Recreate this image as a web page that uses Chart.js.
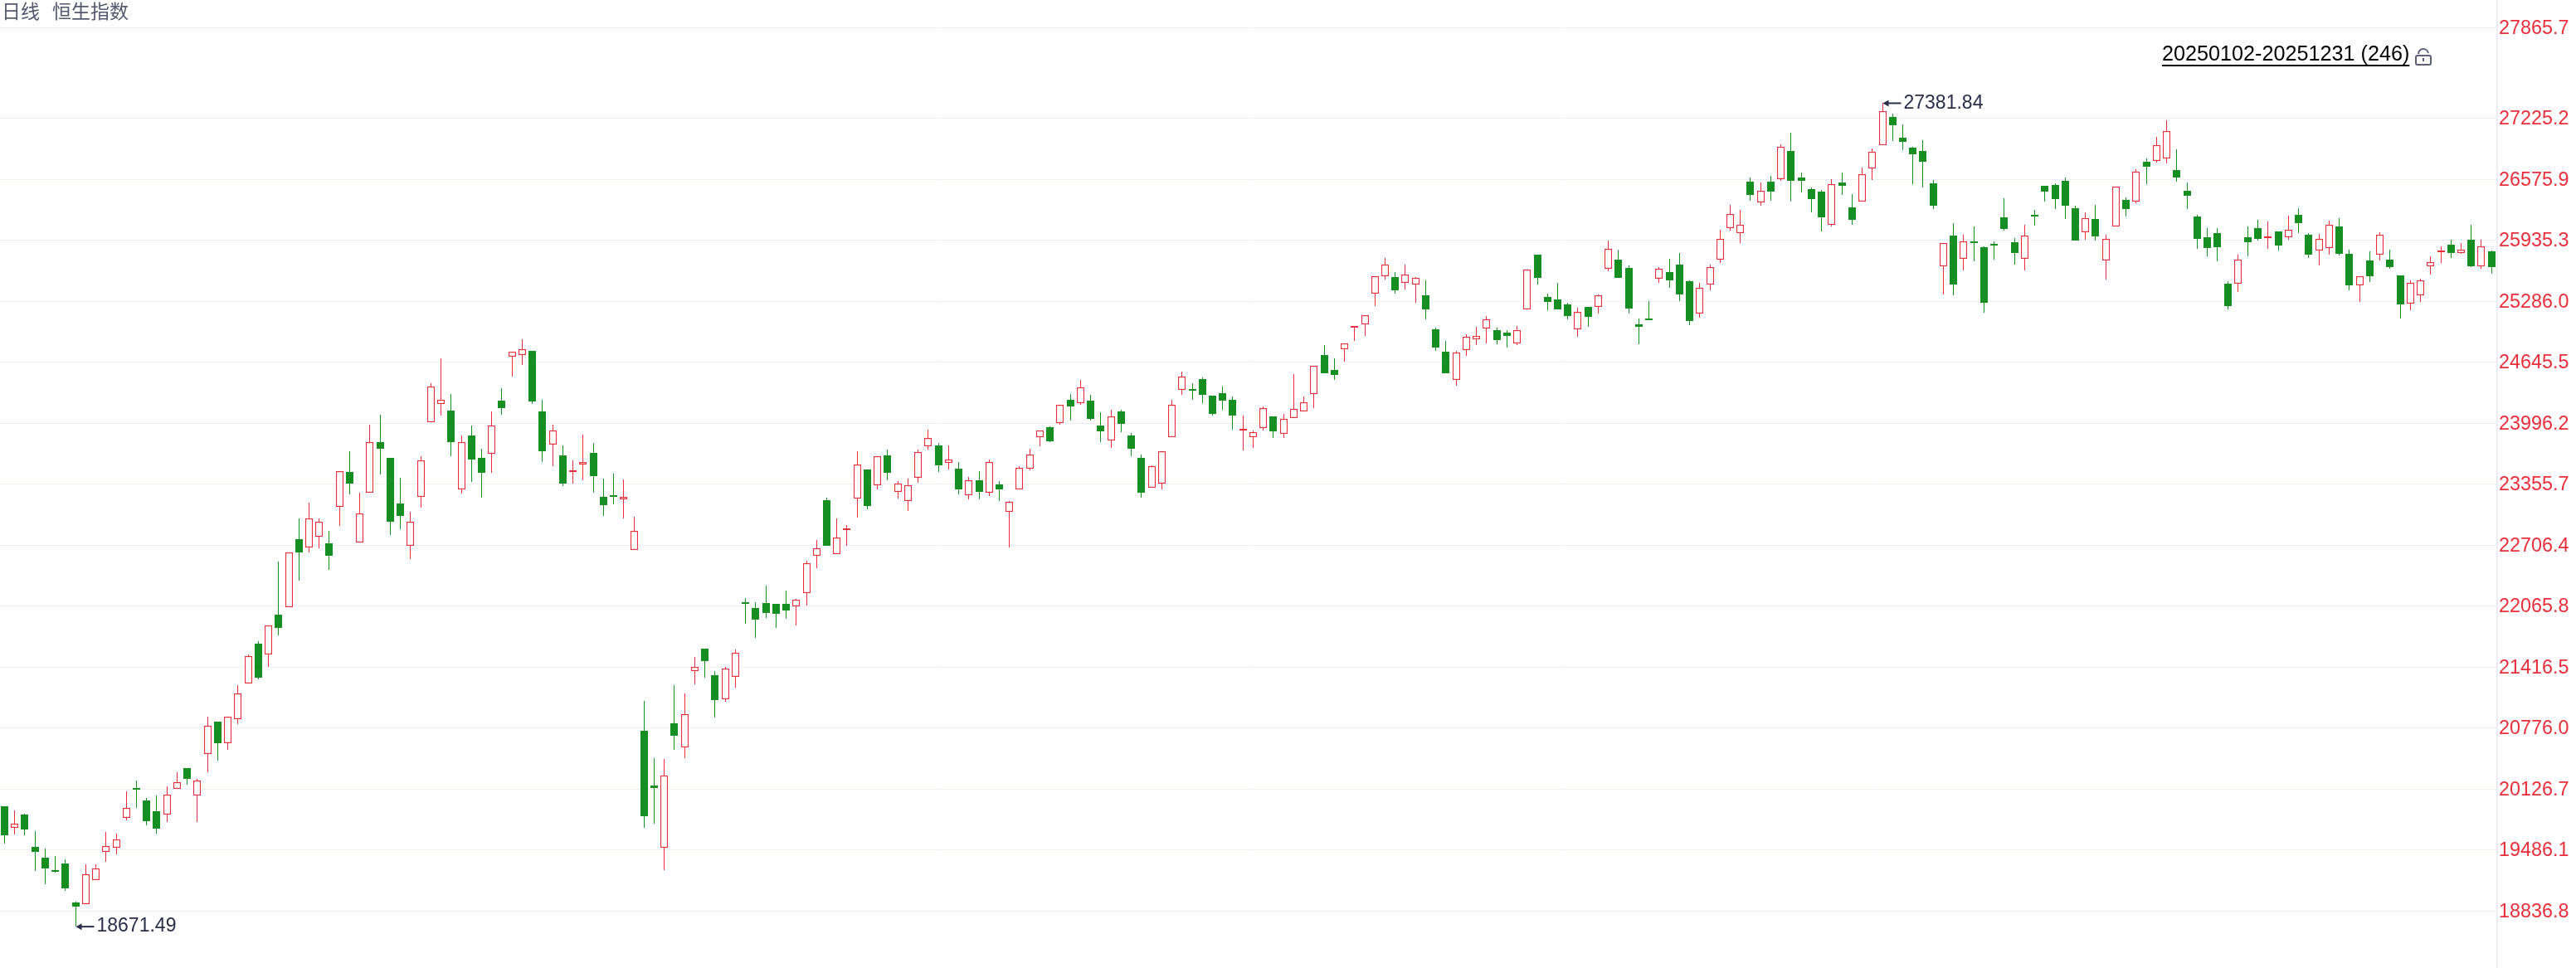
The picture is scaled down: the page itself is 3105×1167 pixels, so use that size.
<!DOCTYPE html>
<html lang="zh">
<head>
<meta charset="utf-8">
<title>恒生指数 日线</title>
<script src="https://cdn.jsdelivr.net/npm/chart.js@4"></script>
<style>html,body{margin:0;padding:0;background:#fff;overflow:hidden}canvas{display:block}</style>
</head>
<body>
<canvas id="c" width="3105" height="1167"></canvas>
<script>
const headerParts = ['日线', '恒生指数'];
const rangeText = '20250102-20251231 (246)';
const tickLabels = ['27865.7','27225.2','26575.9','25935.3','25286.0','24645.5','23996.2','23355.7','22706.4','22065.8','21416.5','20776.0','20126.7','19486.1','18836.8'];
const tickValues = [28175.5,27225.2,26575.9,25935.3,25286.0,24645.5,23996.2,23355.7,22706.4,22065.8,21416.5,20776.0,20126.7,19486.1,18836.8];
const opens = [
19942,19720,19856,19513,19399,19266,19336,18923,18914,19167,
19466,19510,19818,20136,20005,19891,19859,20132,20345,20063,
20501,20837,20615,20869,21240,21662,21548,21974,22050,22772,
22681,22795,22728,23111,23482,22734,23260,23798,23631,23149,
22699,23216,24005,24198,24131,23295,23868,23631,23672,24236,
24698,24716,24762,24122,23769,23658,23479,23558,23684,23219,
23228,23190,22655,20740,20167,19506,20819,20570,21379,21609,
21328,21078,21318,22095,22040,22095,22085,22085,22056,22203,
22593,23184,22609,22868,23197,23507,23338,23657,23268,23172,
23418,23753,23763,23578,23517,23232,23395,23261,23351,23057,
23297,23513,23848,23956,23997,24246,24208,24237,23974,23813,
24123,23869,23632,23314,23358,23848,24348,24359,24465,24289,
24316,24246,23916,23848,23945,24070,23883,24050,24120,24304,
24718,24561,24779,25004,25042,25366,25550,25544,25480,25468,
25351,24992,24756,24455,24770,24884,24998,24983,24957,24840,
25199,25781,25334,25307,25255,24989,25229,25226,25629,25728,
25640,25045,25106,25524,25597,25675,25500,25156,25462,25727,
26060,26008,26554,26332,26554,26577,26878,26597,26475,26448,
26095,26545,26282,26338,26691,26936,27237,27018,26913,26878,
26536,25657,25984,25736,25905,25862,25897,26177,25914,25736,
26192,26510,26519,26562,26273,26016,26159,25718,26078,26361,
26338,26764,26770,26796,26676,26457,26186,25967,26010,25476,
25473,25967,26063,25952,26028,25964,26203,25993,25824,25850,
26081,25791,25456,25721,25780,25730,25564,25263,25351,25657,
25809,25888,25797,25940,25657,25818];
const closes = [
19637,19764,19701,19463,19288,19253,19075,18885,19228,19291,
19526,19590,19929,20123,19786,19710,20072,20202,20237,20221,
20799,20612,20897,21142,21529,21307,21862,21828,22629,22634,
22988,22953,22591,23488,23354,23041,23795,23731,22959,23020,
22953,23602,24382,24242,23801,23795,23617,23476,23970,24160,
24751,24777,24230,23704,23918,23362,23497,23584,23441,23134,
23222,23216,22857,19838,20135,20270,20688,20922,21420,21481,
21069,21404,21570,22088,21922,21992,21983,22018,22127,22513,
22670,22702,22785,22874,23558,23124,23645,23469,23357,23338,
23689,23840,23555,23610,23300,23392,23274,23584,23300,23162,
23524,23664,23918,23810,24190,24178,24374,24047,23907,24067,
23994,23723,23259,23542,23699,24190,24488,24345,24301,24091,
24240,24082,23930,23901,24155,23907,24041,24146,24216,24602,
24529,24511,24840,25010,25138,25550,25672,25407,25567,25532,
25197,24794,24522,24744,24910,24919,25094,24872,24922,24980,
25620,25538,25284,25197,25135,25173,25118,25348,25839,25538,
25214,25013,25091,25629,25512,25363,25074,25427,25646,25946,
26209,26095,26408,26454,26451,26919,26557,26557,26364,26171,
26524,26504,26145,26630,26866,27295,27152,26977,26846,26767,
26302,25902,25462,25920,25900,25269,25873,26048,25794,25981,
26183,26451,26364,26302,25926,26165,25970,25946,26498,26259,
26656,26714,26936,27085,26592,26399,25943,25847,25856,25234,
25727,25908,25943,25961,25873,26043,26110,25777,25946,26095,
25786,25453,25552,25549,25990,25645,25251,25482,25508,25701,
25818,25794,25832,25654,25867,25645];
const highs = [
19942,19897,19863,19678,19494,19415,19380,18939,19329,19329,
19672,19653,20101,20215,20031,20056,20155,20304,20345,20231,
20891,20837,20897,21224,21548,21691,21862,22535,22629,22991,
23158,22991,22860,23488,23701,23263,23982,24087,23631,23421,
23061,23649,24420,24684,24306,23868,23973,23728,24122,24368,
24751,24885,24762,24245,23982,23763,23605,23877,23789,23412,
23465,23403,23009,21056,20458,20449,21222,21136,21522,21609,
21372,21420,21602,22146,22101,22277,22085,22226,22136,22542,
22763,23210,22990,22919,23702,23507,23645,23718,23386,23411,
23718,23929,23789,23763,23587,23431,23491,23610,23386,23172,
23545,23729,23918,23965,24190,24307,24456,24298,24114,24140,
24140,23895,23667,23553,23699,24246,24543,24421,24482,24289,
24386,24281,24079,23921,24175,24070,24097,24517,24281,24602,
24820,24683,24840,25024,25141,25550,25745,25597,25675,25544,
25509,25010,24869,24761,24940,25018,25132,25010,24983,25027,
25620,25781,25369,25483,25272,25220,25229,25360,25929,25833,
25667,25106,25290,25649,25737,25798,25509,25483,25675,26046,
26308,26256,26597,26545,26615,26948,27070,26650,26492,26466,
26580,26650,26422,26703,26904,27381.84,27272,27158,26922,26992,
26571,25902,26116,25993,26081,25870,25923,26378,25958,26098,
26256,26510,26536,26597,26300,26229,26308,25993,26498,26387,
26685,26799,27027,27202,26895,26545,26203,26063,26063,25502,
25783,26081,26151,26133,26028,26194,26273,26010,26002,26142,
26168,25835,25552,25818,26019,25835,25564,25511,25529,25765,
25870,25940,25905,26098,25940,25827];
const lows = [
19552,19647,19637,19263,19120,19240,19050,18671.49,18914,19167,
19358,19437,19796,19929,19745,19656,19780,20132,20174,19780,
20307,20428,20542,20815,21240,21288,21421,21749,22050,22336,
22626,22670,22450,22915,23240,22734,23260,23459,22810,22880,
22564,23108,24005,24081,23652,23257,23380,23213,23468,24090,
24494,24616,24204,23590,23546,23336,23362,23389,23266,23020,
23143,22994,22655,19714,19758,19266,20541,20452,21235,21305,
20883,21050,21200,21877,21727,21938,21832,21925,21858,22069,
22465,22702,22609,22702,23002,23082,23293,23389,23204,23073,
23370,23715,23485,23504,23248,23188,23194,23223,23178,22686,
23297,23495,23749,23793,23977,24021,24196,24021,23793,23732,
23898,23644,23206,23314,23294,23848,24301,24248,24213,24079,
24135,23933,23705,23732,23916,23845,23837,24050,24120,24161,
24529,24459,24645,24864,24916,25240,25521,25372,25415,25267,
25100,24759,24522,24391,24706,24820,24837,24829,24794,24820,
25199,25468,25188,25197,25100,24907,25013,25153,25608,25538,
25153,24829,25083,25486,25433,25293,25030,25109,25407,25689,
26031,25900,26346,26294,26346,26557,26338,26434,26224,26022,
26075,26416,26092,26338,26574,26936,26986,26889,26530,26495,
26267,25356,25348,25610,25707,25164,25724,26031,25672,25610,
26083,26338,26259,26154,25926,25935,25926,25514,26078,26180,
26320,26530,26758,26749,26548,26267,25838,25759,25707,25199,
25383,25759,25926,25838,25821,25935,26005,25742,25663,25777,
25768,25400,25278,25488,25716,25628,25102,25190,25278,25567,
25689,25742,25786,25645,25628,25575];

const RED = '#e92f3b', GREEN = '#168f22', GRID = '#eeedf6', AXIS = '#ecebf6', INK = '#2b2d4b';
const labels = opens.map((_, i) => String(i));
const isUp = i => closes[i] >= opens[i];
const snap = v => Math.floor(v - 0.7) + 0.5;
const hiIndex = highs.indexOf(Math.max(...highs));
const loIndex = lows.indexOf(Math.min(...lows));

// Keep candle bodies and wicks crisp on whole device pixels.
const snapBars = {
  id: 'snapBars',
  afterDatasetsUpdate(chart) {
    chart.data.datasets.forEach((_, d) => {
      chart.getDatasetMeta(d).data.forEach(el => {
        el.x = snap(el.x);
        el.y = Math.round(el.y);
        el.base = Math.round(el.base);
      });
    });
  }
};

const overlay = {
  id: 'overlay',
  afterDraw(chart) {
    const { ctx, scales: { x, y } } = chart;
    ctx.save();
    ctx.textBaseline = 'middle';
    ctx.textAlign = 'left';
    // title
    ctx.fillStyle = '#55586e';
    ctx.font = '400 23px "Noto Sans CJK SC"';
    ctx.fillText(headerParts[0], 2, 13);
    ctx.fillText(headerParts[1], 63, 13);
    // date range with underline
    ctx.fillStyle = '#000';
    ctx.font = '25.2px "Liberation Sans"';
    const rx = 2606, ry = 66;
    ctx.fillText(rangeText, rx, ry);
    const w = ctx.measureText(rangeText).width;
    ctx.fillRect(rx, 78, w, 2);
    // lock icon
    ctx.strokeStyle = '#5d5f7d'; ctx.lineWidth = 2;
    ctx.beginPath(); ctx.roundRect(2912, 67, 18, 11, 2); ctx.stroke();
    ctx.beginPath(); ctx.arc(2921, 65, 6, Math.PI, Math.PI * 1.95); ctx.stroke();
    ctx.fillStyle = '#5d5f7d'; ctx.fillRect(2920, 70, 2, 4);
    // extreme markers
    const mark = (idx, val, text) => {
      const px = snap(x.getPixelForValue(idx)), py = y.getPixelForValue(val);
      ctx.strokeStyle = INK; ctx.fillStyle = INK; ctx.lineWidth = 2;
      ctx.beginPath(); ctx.moveTo(px + 3, py); ctx.lineTo(px + 22, py); ctx.stroke();
      ctx.beginPath(); ctx.moveTo(px, py); ctx.lineTo(px + 7, py - 4); ctx.lineTo(px + 7, py + 4); ctx.closePath(); ctx.fill();
      ctx.font = '23px "Liberation Sans"';
      ctx.fillText(text, px + 25, py);
    };
    mark(hiIndex, highs[hiIndex], highs[hiIndex].toFixed(2));
    mark(loIndex, lows[loIndex], lows[loIndex].toFixed(2));
    ctx.restore();
  }
};

new Chart(document.getElementById('c'), {
  type: 'bar',
  data: {
    labels,
    datasets: [
      {
        label: 'body', order: 1, grouped: false,
        data: opens.map((o, i) => [o, closes[i]]),
        barThickness: 9, minBarLength: 2, inflateAmount: 0,
        borderSkipped: false,
        borderWidth: c => isUp(c.dataIndex) ? 1.3 : 0,
        backgroundColor: c => isUp(c.dataIndex) ? '#ffffff' : GREEN,
        borderColor: c => isUp(c.dataIndex) ? RED : GREEN
      },
      {
        label: 'wick', order: 2, grouped: false,
        data: lows.map((l, i) => [l, highs[i]]),
        barThickness: 1, inflateAmount: 0, borderWidth: 0,
        backgroundColor: c => isUp(c.dataIndex) ? RED : GREEN
      }
    ]
  },
  options: {
    responsive: false,
    animation: false,
    devicePixelRatio: 1,
    layout: { padding: 0 },
    plugins: { legend: { display: false }, tooltip: { enabled: false } },
    scales: {
      x: { display: false, type: 'category', offset: true, grid: { display: false } },
      y: {
        position: 'right',
        min: 18234, max: 28473.8,
        afterBuildTicks: s => { s.ticks = tickValues.map(v => ({ value: v })); },
        afterFit: s => { s.width = 95; s.paddingTop = 0; s.paddingBottom = 0; },
        grid: { color: GRID, lineWidth: 1, drawTicks: false },
        border: { display: true, color: AXIS, width: 2 },
        ticks: {
          autoSkip: false,
          padding: 2,
          labelOffset: 1,
          color: RED,
          font: { family: '"Liberation Sans"', size: 23.4 },
          callback: v => tickLabels[tickValues.indexOf(v)]
        }
      }
    }
  },
  plugins: [snapBars, overlay]
});
</script>
</body>
</html>
